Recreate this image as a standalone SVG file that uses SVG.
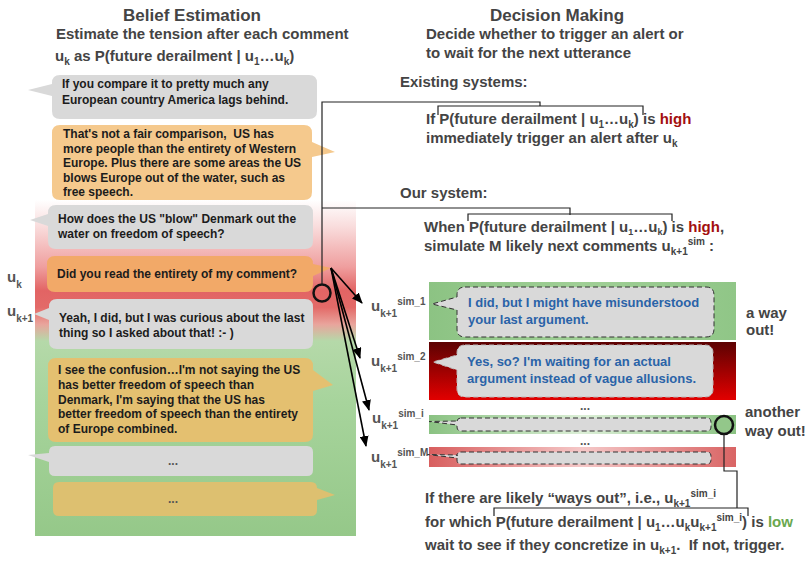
<svg xmlns="http://www.w3.org/2000/svg" width="812" height="561" viewBox="0 0 812 561">
<defs>
<style>
text{font-family:"Liberation Sans",Arial,sans-serif;font-weight:bold}
.h{font-size:17px;fill:#444}
.m{font-size:15px;fill:#444}
.b{font-size:12px;fill:#1c1c1c}
.sb{font-size:10px}
.ss{font-size:9px}
.lbl{font-size:15px;fill:#555}
.blue{font-size:13px;fill:#2a63a8}
.red{fill:#a30f0f}
.grn{fill:#6aa84f}
.gray{fill:#d9d9d9}
.dash{fill:#d9d9d9;stroke:#333;stroke-width:1;stroke-dasharray:5,3}
.ln{fill:none;stroke:#222;stroke-width:1.2}
.arr{fill:none;stroke:#000;stroke-width:1.6;marker-end:url(#ah)}
.dots{font-size:12px;fill:#555}
</style>
<marker id="ah" markerUnits="userSpaceOnUse" markerWidth="11" markerHeight="9" refX="10" refY="4.5" orient="auto">
<path d="M0,0 L11,4.5 L0,9 z" fill="#000"/>
</marker>
<linearGradient id="gPanel" gradientUnits="userSpaceOnUse" x1="0" y1="200" x2="0" y2="536">
<stop offset="0" stop-color="#ffffff"/>
<stop offset="0.08" stop-color="#f9dcdc"/>
<stop offset="0.2" stop-color="#ef9e9e"/>
<stop offset="0.27" stop-color="#e26464"/>
<stop offset="0.32" stop-color="#e36a68"/>
<stop offset="0.37" stop-color="#e9a49c"/>
<stop offset="0.42" stop-color="#b5d9a9"/>
<stop offset="0.6" stop-color="#a7d49c"/>
<stop offset="1" stop-color="#95c889"/>
</linearGradient>
<linearGradient id="gG1" x1="0" y1="0" x2="1" y2="0">
<stop offset="0" stop-color="#8cc383"/>
<stop offset="0.5" stop-color="#a0cf96"/>
<stop offset="1" stop-color="#90c687"/>
</linearGradient>
<linearGradient id="gR2" x1="0" y1="0" x2="0" y2="1">
<stop offset="0" stop-color="#5c0202"/>
<stop offset="1" stop-color="#e20000"/>
</linearGradient>
<linearGradient id="gGi" x1="0" y1="0" x2="1" y2="0">
<stop offset="0" stop-color="#8ac282"/>
<stop offset="0.5" stop-color="#dcefd7"/>
<stop offset="1" stop-color="#8ac282"/>
</linearGradient>
<linearGradient id="gRM" x1="0" y1="0" x2="1" y2="0">
<stop offset="0" stop-color="#d85e5e"/>
<stop offset="0.5" stop-color="#f5c8c8"/>
<stop offset="1" stop-color="#d96464"/>
</linearGradient>
</defs>

<rect width="812" height="561" fill="#fff"/>

<g id="titles">
<text class="h" x="192" y="21" text-anchor="middle">Belief Estimation</text>
<text class="m" x="56" y="39">Estimate the tension after each comment</text>
<text class="m" x="55" y="61">u<tspan class="sb" dy="4">k</tspan><tspan dy="-4"> as P(future derailment | u</tspan><tspan class="sb" dy="4">1</tspan><tspan dy="-4">…u</tspan><tspan class="sb" dy="4">k</tspan><tspan dy="-4">)</tspan></text>
<text class="h" x="557" y="21" text-anchor="middle">Decision Making</text>
<text class="m" x="426" y="39">Decide whether to trigger an alert or</text>
<text class="m" x="426" y="58">to wait for the next utterance</text>
</g>

<g id="panel">
<rect x="35" y="200" width="321" height="336" fill="url(#gPanel)"/>
</g>

<g id="bubble1">
<path class="gray" d="M60,75 H309 Q317,75 317,83 V111 Q317,119 309,119 H60 Q52,119 52,111 V96 L28,90 L52,84 V83 Q52,75 60,75 Z"/>
<text class="b" x="62" y="88">If you compare it to pretty much any</text>
<text class="b" x="62" y="104">European country America lags behind.</text>
</g>
<g id="bubble2">
<path fill="#f5c98d" d="M60,125 H304 Q312,125 312,133 V142 L335,152 L312,157 V192 Q312,200 304,200 H60 Q52,200 52,192 V133 Q52,125 60,125 Z"/>
<text class="b" x="63" y="138" xml:space="preserve">That's not a fair comparison,  US has</text>
<text class="b" x="63" y="153">more people than the entirety of Western</text>
<text class="b" x="63" y="167">Europe. Plus there are some areas the US</text>
<text class="b" x="63" y="182">blows Europe out of the water, such as</text>
<text class="b" x="63" y="196">free speech.</text>
</g>
<g id="bubble3">
<path class="gray" d="M56,205 H305 Q313,205 313,213 V241 Q313,249 305,249 H56 Q48,249 48,241 V226 L30,220 L48,214 V213 Q48,205 56,205 Z"/>
<text class="b" x="58" y="223">How does the US "blow" Denmark out the</text>
<text class="b" x="58" y="238">water on freedom of speech?</text>
</g>
<g id="bubble4">
<path fill="#f2a968" d="M55,256 H305 Q313,256 313,264 L331,268 L313,276 V284 Q313,292 305,292 H55 Q47,292 47,284 V264 Q47,256 55,256 Z"/>
<text class="b" x="57" y="278">Did you read the entirety of my comment?</text>
</g>
<g id="bubble5">
<path class="gray" d="M57,299 H305 Q313,299 313,307 V341 Q313,349 305,349 H57 Q49,349 49,341 V320 L34,314 L49,308 V307 Q49,299 57,299 Z"/>
<text class="b" x="59" y="322">Yeah, I did, but I was curious about the last</text>
<text class="b" x="59" y="337">thing so I asked about that! :- )</text>
</g>
<g id="bubble6">
<path fill="#e4c070" d="M56,358 H305 Q313,358 313,366 V370 L333,385 L313,391 V434 Q313,442 305,442 H56 Q48,442 48,434 V366 Q48,358 56,358 Z"/>
<text class="b" x="58" y="374">I see the confusion…I'm not saying the US</text>
<text class="b" x="58" y="389">has better freedom of speech than</text>
<text class="b" x="58" y="404">Denmark, I'm saying that the US has</text>
<text class="b" x="58" y="418">better freedom of speech than the entirety</text>
<text class="b" x="58" y="433">of Europe combined.</text>
</g>
<g id="bubble7">
<path class="gray" d="M55,446 H307 Q313,446 313,452 V470 Q313,476 307,476 H55 Q49,476 49,470 V462 L28,455 L49,453 V452 Q49,446 55,446 Z"/>
<text class="dots" x="173" y="465" text-anchor="middle">...</text>
</g>
<g id="bubble8">
<path fill="#ddc070" d="M59,482 H311 Q317,482 317,488 L335,495 L317,500 V510 Q317,516 311,516 H59 Q53,516 53,510 V488 Q53,482 59,482 Z"/>
<text class="dots" x="173" y="503" text-anchor="middle">...</text>
</g>

<g id="left-labels">
<text class="lbl" x="7" y="282">u<tspan class="sb" dy="6">k</tspan></text>
<text class="lbl" x="7" y="316">u<tspan class="sb" dy="6">k+1</tspan></text>
</g>

<g id="existing">
<text class="m" x="400" y="87">Existing systems:</text>
<text class="m" x="426" y="124">If P(future derailment | u<tspan class="sb" dy="4">1</tspan><tspan dy="-4">…u</tspan><tspan class="sb" dy="4">k</tspan><tspan dy="-4">) is </tspan><tspan class="red">high</tspan></text>
<text class="m" x="426" y="143">immediately trigger an alert after u<tspan class="sb" dy="4">k</tspan></text>
</g>

<g id="oursystem">
<text class="m" x="400" y="198">Our system:</text>
<text class="m" x="424" y="232">When P(future derailment | u<tspan class="ss" dy="3">1</tspan><tspan dy="-3">…u</tspan><tspan class="ss" dy="3">k</tspan><tspan dy="-3">) is </tspan><tspan class="red">high</tspan><tspan>,</tspan></text>
<text class="m" x="424" y="251">simulate M likely next comments u<tspan class="sb" dy="4">k+1</tspan><tspan class="sb" dy="-10">sim</tspan><tspan dy="6"> :</tspan></text>
</g>

<g id="sim1">
<rect x="429" y="282" width="307" height="58" fill="url(#gG1)"/>
<path class="dash" d="M465,287 H706 Q714,287 714,295 V329 Q714,337 706,337 H465 Q457,337 457,329 V310 L432,304 L457,297 V295 Q457,287 465,287 Z"/>
<text class="blue" x="468" y="307">I did, but I might have misunderstood</text>
<text class="blue" x="468" y="324">your last argument.</text>
<text class="lbl" x="371" y="311">u<tspan class="sb" dy="6">k+1</tspan><tspan class="sb" dy="-12">sim_1</tspan></text>
<text class="m" x="746" y="318">a way</text>
<text class="m" x="746" y="335">out!</text>
</g>

<g id="sim2">
<rect x="429" y="342" width="307" height="58" fill="url(#gR2)"/>
<path class="dash" style="stroke:#bbb" d="M465,345 H705 Q713,345 713,353 V389 Q713,397 705,397 H465 Q457,397 457,389 V370 L433,362 L457,355 V353 Q457,345 465,345 Z"/>
<text class="blue" x="467" y="366">Yes, so? I'm waiting for an actual</text>
<text class="blue" x="467" y="383">argument instead of vague allusions.</text>
<text class="lbl" x="371" y="366">u<tspan class="sb" dy="6">k+1</tspan><tspan class="sb" dy="-12">sim_2</tspan></text>
</g>

<text class="dots" x="585" y="410" text-anchor="middle">...</text>

<g id="simi">
<rect x="429" y="415" width="307" height="19" fill="url(#gGi)"/>
<path class="dash" d="M461,418 H707 Q711,418 711,422 V427 Q711,431 707,431 H461 Q457,431 457,427 V425 L429,421.5 L457,421 V422 Q457,418 461,418 Z"/>
<text class="lbl" x="372" y="423">u<tspan class="sb" dy="6">k+1</tspan><tspan class="sb" dy="-12">sim_i</tspan></text>
<circle cx="724" cy="425" r="9" fill="#93c78a" stroke="#111" stroke-width="2.5"/>
<text class="m" x="745" y="417">another</text>
<text class="m" x="745" y="436">way out!</text>
</g>

<text class="dots" x="585" y="445" text-anchor="middle">...</text>

<g id="simM">
<rect x="429" y="447" width="307" height="20" fill="url(#gRM)"/>
<path class="dash" d="M461,452 H707 Q711,452 711,456 V460 Q711,464 707,464 H461 Q457,464 457,460 V458 L427,454.5 L457,455 V456 Q457,452 461,452 Z"/>
<text class="lbl" x="371" y="462">u<tspan class="sb" dy="6">k+1</tspan><tspan class="sb" dy="-12">sim_M</tspan></text>
</g>

<g id="bottom-text">
<text class="m" x="425" y="503">If there are likely “ways out”, i.e., u<tspan class="sb" dy="4">k+1</tspan><tspan class="sb" dy="-10">sim_i</tspan></text>
<text class="m" x="425" y="527">for which P(future derailment | u<tspan class="sb" dy="4">1</tspan><tspan dy="-4">…u</tspan><tspan class="sb" dy="4">k</tspan><tspan dy="-4">u</tspan><tspan class="sb" dy="4">k+1</tspan><tspan class="sb" dy="-10">sim_i</tspan><tspan dy="6">) is </tspan><tspan class="grn">low</tspan></text>
<text class="m" x="425" y="550">wait to see if they concretize in u<tspan class="sb" dy="4">k+1</tspan><tspan dy="-4" xml:space="preserve">.  If not, trigger.</tspan></text>
</g>

<g id="connectors">
<circle cx="322" cy="293" r="8.5" fill="none" stroke="#111" stroke-width="2.5"/>
<path class="ln" d="M322,284.5 V102 H540 V106"/>
<path class="ln" d="M438,115 V106 H643 V115"/>
<path class="ln" d="M322,208 H570 V215"/>
<path class="ln" d="M468,221 V214 H672 V221"/>
<path class="ln" d="M724,434 V471 H737 V508"/>
<path class="ln" d="M494,516 V508 H748 V516"/>
<path class="arr" d="M331,268 L362,303"/>
<path class="arr" d="M331,268 L360,358"/>
<path class="arr" d="M331,268 L369,410"/>
<path class="arr" d="M331,268 L366,446"/>
</g>
</svg>
